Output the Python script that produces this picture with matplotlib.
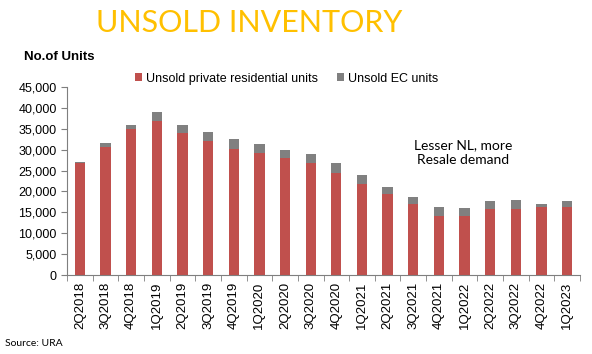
import matplotlib.pyplot as plt
import numpy as np

plt.rcParams['font.family'] = ['Liberation Sans', 'DejaVu Sans']

# quarters and unsold units
quarters = ['2Q2018', '3Q2018', '4Q2018', '1Q2019', '2Q2019', '3Q2019', '4Q2019',
            '1Q2020', '2Q2020', '3Q2020', '4Q2020', '1Q2021', '2Q2021', '3Q2021',
            '4Q2021', '1Q2022', '2Q2022', '3Q2022', '4Q2022', '1Q2023']
private = [26900, 30700, 35000, 36800, 33900, 32100, 30200,
           29200, 28100, 26700, 24400, 21700, 19400, 17100,
           14100, 14100, 15900, 15700, 16200, 16300]
ec = [150, 900, 900, 2100, 1900, 2200, 2300,
      2100, 1800, 2300, 2300, 2200, 1600, 1600,
      2100, 1900, 1700, 2200, 900, 1300]

fig = plt.figure(figsize=(5.92, 3.54), dpi=100)
ax = fig.add_axes([67 / 592, 1 - 275 / 354, 513 / 592, 188 / 354])

x = np.arange(len(quarters))
ax.bar(x, private, width=0.4, color='#C0504D', label='Unsold private residential units')
ax.bar(x, ec, width=0.4, bottom=private, color='#808080', label='Unsold EC units')

ax.set_xlim(-0.5, len(quarters) - 0.5)
ax.set_ylim(0, 45000)
ax.set_yticks(range(0, 45001, 5000))
ax.set_yticklabels([f'{v:,}' for v in range(0, 45001, 5000)], fontsize=9)
ax.set_xticks(x)
ax.set_xticklabels(quarters, rotation=90, fontsize=9.5)
ax.set_xticks(np.arange(-0.5, len(quarters)), minor=True)
ax.tick_params(axis='x', which='major', length=0, pad=5)
ax.tick_params(axis='x', which='minor', length=4, color='#7f7f7f')
ax.tick_params(axis='y', length=4, color='#7f7f7f')
for s in ['top', 'right']:
    ax.spines[s].set_visible(False)
for s in ['left', 'bottom']:
    ax.spines[s].set_color('#7f7f7f')

ax.legend(loc='upper left', bbox_to_anchor=(0.11, 1.135), ncol=2, frameon=False,
          fontsize=9, handlelength=0.6, handleheight=0.6, handletextpad=0.3,
          columnspacing=1.5)

fig.text(249 / 592, 1 - 23 / 354, 'UNSOLD INVENTORY', color='#FFC000',
         fontsize=22, family='Lato', ha='center', va='center')
fig.text(24 / 592, 1 - 57 / 354, 'No.of Units', fontsize=9.5, fontweight='bold',
         ha='left', va='center')
fig.text(463 / 592, 1 - 153 / 354, 'Lesser NL, more\nResale demand', fontsize=10,
         family='Lato', ha='center', va='center', linespacing=1.3)
fig.text(5 / 592, 1 - 343 / 354, 'Source: URA', fontsize=7.5, family='Lato',
         ha='left', va='center')

fig.savefig('out.png', dpi=100)
